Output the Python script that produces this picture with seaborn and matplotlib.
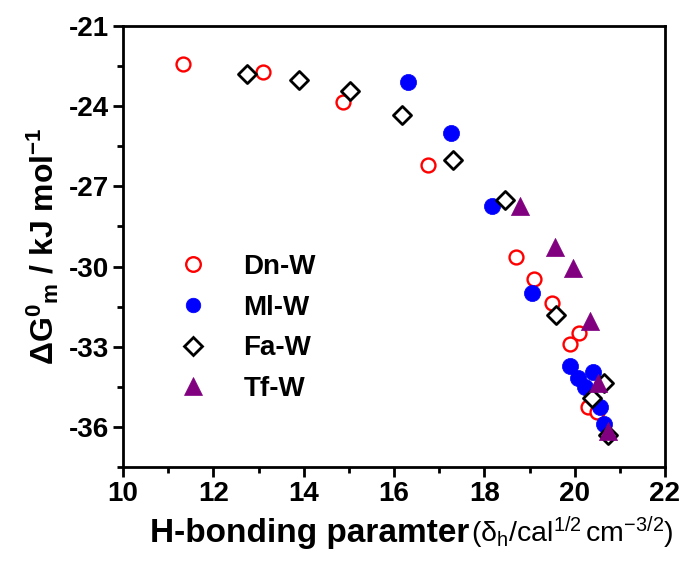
import matplotlib
matplotlib.use("Agg")
import matplotlib.pyplot as plt
import seaborn as sns
import pandas as pd
from matplotlib.ticker import MultipleLocator
from matplotlib.lines import Line2D

# ---- data ----
dn_x = [11.33, 13.09, 14.88, 16.76, 18.70, 19.09, 19.49, 20.10, 19.90, 20.30, 20.49]
dn_y = [-22.42, -22.71, -23.83, -26.20, -29.63, -30.48, -31.38, -32.47, -32.90, -35.24, -35.43]
ml_x = [16.30, 17.26, 18.16, 19.05, 19.90, 20.08, 20.40, 20.23, 20.56, 20.65]
ml_y = [-23.08, -24.99, -27.72, -31.00, -33.71, -34.18, -33.93, -34.49, -35.24, -35.89]
fa_x = [12.74, 13.89, 15.03, 16.17, 17.30, 18.46, 19.59, 20.39, 20.64, 20.73]
fa_y = [-22.80, -23.02, -23.42, -24.33, -26.01, -27.51, -31.81, -34.93, -34.37, -36.30]
tf_x = [18.79, 19.56, 19.96, 20.34, 20.51, 20.73]
tf_y = [-27.75, -29.26, -30.07, -32.04, -34.37, -36.15]
series_names = ["Dn-W", "Ml-W", "Fa-W", "Tf-W"]
x_ticks = [10, 12, 14, 16, 18, 20, 22]
y_ticks = [-36, -33, -30, -27, -24, -21]
xlabel_main = "H-bonding paramter"
xlabel_unit = r"$(\mathrm{\delta_h}/\mathrm{cal}^{1/2}\,\mathrm{cm}^{-3/2})$"
ylabel_text = r"$\mathbf{\Delta G^0{}_m}$ / kJ mol$^{\mathbf{-1}}$"

sns.set_theme(style="ticks")
plt.rcParams["font.family"] = ["Liberation Sans", "DejaVu Sans"]
plt.rcParams["font.weight"] = "bold"
plt.rcParams["axes.unicode_minus"] = False
plt.rcParams["text.color"] = "black"
plt.rcParams["axes.labelcolor"] = "black"
plt.rcParams["xtick.color"] = "black"
plt.rcParams["ytick.color"] = "black"
plt.rcParams["mathtext.fontset"] = "custom"
plt.rcParams["mathtext.rm"] = "Liberation Sans:weight=normal"
plt.rcParams["mathtext.it"] = "Liberation Sans:italic:weight=normal"
plt.rcParams["mathtext.bf"] = "Liberation Sans:weight=bold"

W, H = 685, 562
fig = plt.figure(figsize=(W / 100, H / 100), dpi=100)
ax = fig.add_axes([123 / W, 1 - 467 / H, 542 / W, 441 / H])

frames = []
for name, xs, ys in zip(series_names, [dn_x, ml_x, fa_x, tf_x], [dn_y, ml_y, fa_y, tf_y]):
    frames.append(pd.DataFrame({"x": xs, "y": ys, "series": name}))
df = pd.concat(frames, ignore_index=True)

styles = {
    "Dn-W": dict(marker="o", s=100, facecolor="white", edgecolor="red", linewidth=1.7),
    "Ml-W": dict(marker="o", s=135, facecolor="blue", edgecolor="blue", linewidth=0.5),
    "Fa-W": dict(marker="D", s=85, facecolor="white", edgecolor="black", linewidth=2.0),
    "Tf-W": dict(marker="^", s=170, facecolor="purple", edgecolor="purple", linewidth=0.5),
}
for i, name in enumerate(series_names):
    st = styles[name]
    sub = df[df["series"] == name]
    sns.scatterplot(data=sub, x="x", y="y", ax=ax, marker=st["marker"], s=st["s"],
                    color=st["facecolor"], edgecolor=st["edgecolor"],
                    linewidth=st["linewidth"], zorder=3 + i, legend=False)

ax.set_xlim(10, 22)
ax.set_ylim(-37.5, -21)
ax.set_xticks(x_ticks)
ax.set_yticks(y_ticks)
ax.xaxis.set_minor_locator(MultipleLocator(1))
ax.yaxis.set_minor_locator(MultipleLocator(1.5))
ax.tick_params(axis="both", which="major", direction="out", length=7, width=2,
               labelsize=20, pad=3, top=False, right=False, color="black", labelcolor="black")
ax.tick_params(axis="both", which="minor", direction="out", length=4, width=2,
               top=False, right=False, color="black")
for lab in ax.get_xticklabels() + ax.get_yticklabels():
    lab.set_fontweight("bold")
for sp in ax.spines.values():
    sp.set_linewidth(2)
    sp.set_color("black")
    sp.set_visible(True)

ax.set_xlabel("")
ax.set_ylabel(ylabel_text, fontsize=23, fontweight="bold", labelpad=6)

# x-axis title: bold main part followed by the unit part
baseline = (H - 542) / H
t1 = fig.text(150 / W, baseline, xlabel_main, fontsize=24, fontweight="bold",
              ha="left", va="baseline")
fig.canvas.draw()
bb = t1.get_window_extent(renderer=fig.canvas.get_renderer())
fig.text(bb.x1 / W + 2 / W, baseline, xlabel_unit, fontsize=20.5, ha="left", va="baseline")

handles = []
for name in series_names:
    st = styles[name]
    ms = {"o": 10.5, "D": 9.5, "^": 13}[st["marker"]]
    handles.append(Line2D([], [], linestyle="none", marker=st["marker"], markersize=ms,
                          markerfacecolor=st["facecolor"], markeredgecolor=st["edgecolor"],
                          markeredgewidth=st["linewidth"] if st["linewidth"] > 1 else 0.5))
leg = ax.legend(handles, series_names, loc="upper left", bbox_to_anchor=(0.053, 0.54),
                frameon=False, prop={"size": 20, "weight": "bold"},
                labelspacing=0.53, handletextpad=1.2, handlelength=1.2)

fig.savefig("out.png", dpi=100)
